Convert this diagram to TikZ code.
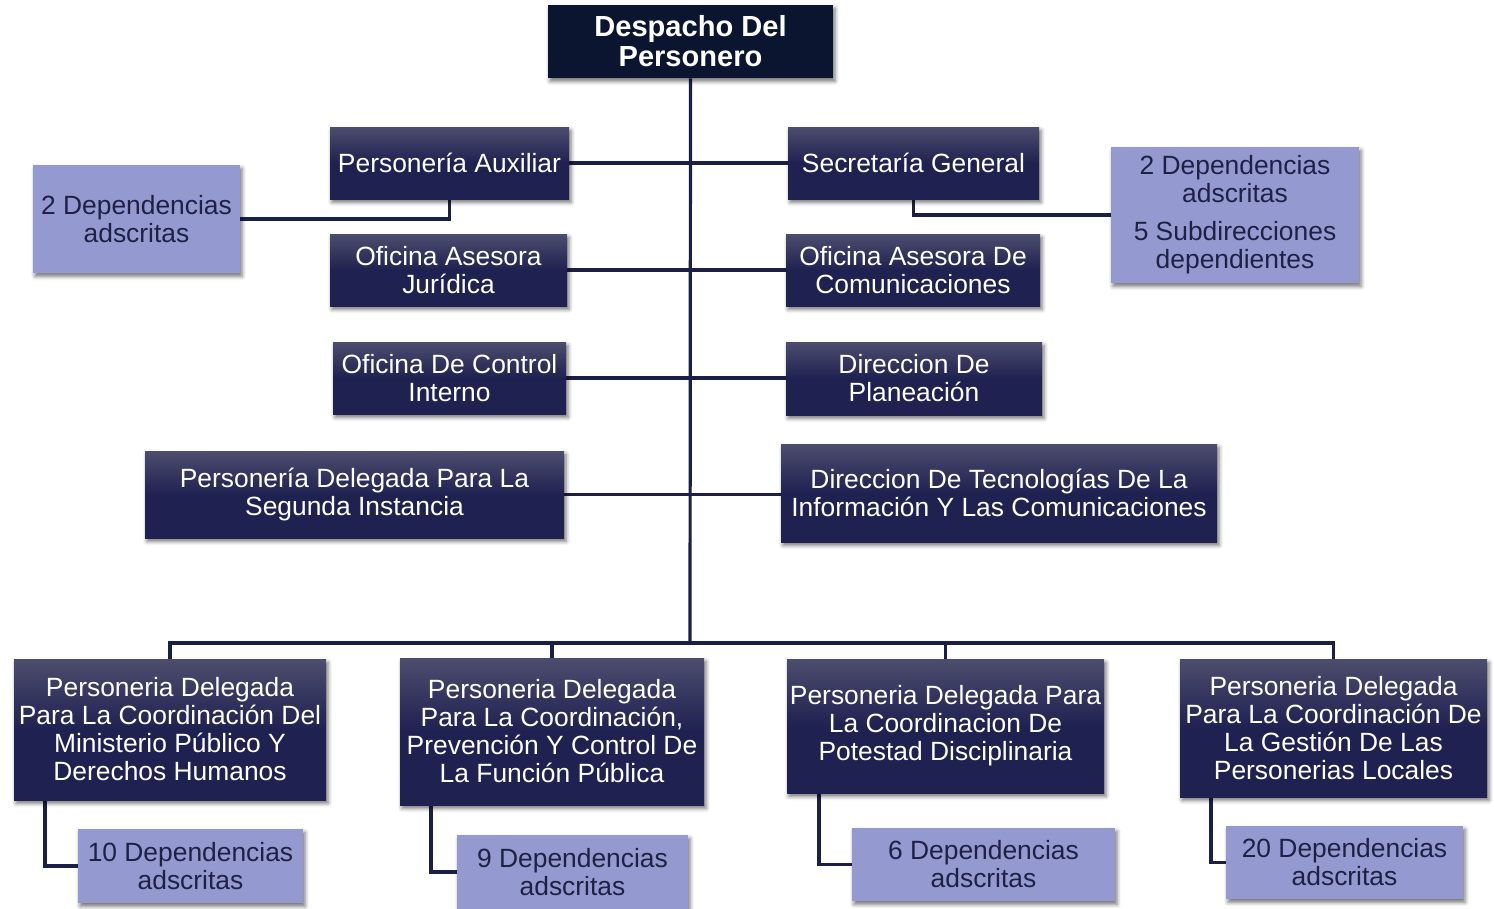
\documentclass[tikz,border=0pt]{standalone}
\usepackage{fontspec}
\setmainfont{Liberation Sans}
\usetikzlibrary{shadows.blur}
\definecolor{boxtop}{HTML}{4D4D6E}
\definecolor{boxdark}{HTML}{1F2151}
\definecolor{headfill}{HTML}{0B1530}
\definecolor{subfill}{HTML}{9499D0}
\definecolor{subtext}{HTML}{1E2145}
\definecolor{linkcol}{HTML}{1B1F47}
\pgfdeclarelayer{bg}
\pgfsetlayers{bg,main}
\tikzset{
  shade/.style={blur shadow={shadow xshift=1.5pt, shadow yshift=-2.5pt,
      shadow blur radius=3pt, shadow opacity=55}},
  bsize/.style 2 args={minimum width=#1*0.75pt, minimum height=#2*0.75pt},
  unit/.style={shade, inner sep=0pt, align=center, text=white,
      top color=boxtop, bottom color=boxdark, middle color=boxdark,
      font=\fontsize{19.8}{21}\selectfont},
  head/.style={shade, inner sep=0pt, align=center, text=white, fill=headfill,
      font=\bfseries\fontsize{21.8}{22.5}\selectfont},
  sub/.style={shade, inner sep=0pt, align=center, text=subtext, fill=subfill,
      font=\fontsize{19.8}{21}\selectfont},
  link/.style={draw=linkcol, line width=2.4pt},
}
\begin{document}
\begin{tikzpicture}[x=0.75pt, y=-0.75pt]
\useasboundingbox (0,0) rectangle (1494,908);

% head of the office
\node[head, bsize={285}{73}] (D) at (690.5,41.5) {Despacho Del\\Personero};

% staff offices on both sides of the trunk
\node[unit, bsize={239}{72}] (PA)  at (449.5,163) {Personería Auxiliar};
\node[unit, bsize={251}{72}] (SG)  at (913.5,163) {Secretaría General};
\node[unit, bsize={237}{72}] (OAJ) at (448.5,270) {Oficina Asesora\\Jurídica};
\node[unit, bsize={254}{72}] (OAC) at (913,270) {Oficina Asesora De\\Comunicaciones};
\node[unit, bsize={233}{72}] (OCI) at (449.5,378) {Oficina De Control\\Interno};
\node[unit, bsize={256}{73}] (DP)  at (914,378.5) {Direccion De\\Planeación};
\node[unit, bsize={419}{87}] (PDSI) at (354.5,494.5) {Personería Delegada Para La\\Segunda Instancia};
\node[unit, bsize={436}{98}] (DTIC) at (999,493) {Direccion De Tecnologías De La\\Información Y Las Comunicaciones};

% attached units of the staff offices
\node[sub, bsize={207}{108}] (LD1) at (136.5,219) {2 Dependencias\\adscritas};
\node[sub, bsize={248}{136}] (RD)  at (1235,215) {\rule{0pt}{3pt}2 Dependencias\\adscritas\\[7.5pt]5 Subdirecciones\\dependientes};

% delegate offices
\node[unit, bsize={312}{141}] (B1) at (170,729.5) {Personeria Delegada\\Para La Coordinación Del\\Ministerio Público Y\\Derechos Humanos};
\node[unit, bsize={304}{147}] (B2) at (552,731.5) {Personeria Delegada\\Para La Coordinación,\\Prevención Y Control De\\La Función Pública};
\node[unit, bsize={317}{134}] (B3) at (945.5,726) {Personeria Delegada Para\\La Coordinacion De\\Potestad Disciplinaria};
\node[unit, bsize={307}{138}] (B4) at (1333.5,728) {Personeria Delegada\\Para La Coordinación De\\La Gestión De Las\\Personerias Locales};

% attached units of the delegate offices
\node[sub, bsize={225}{74}] (L1) at (190.5,866) {10 Dependencias\\adscritas};
\node[sub, bsize={231}{74}] (L2) at (572.5,872) {9 Dependencias\\adscritas};
\node[sub, bsize={263}{73}] (L3) at (983.5,864.5) {6 Dependencias\\adscritas};
\node[sub, bsize={237}{73}] (L4) at (1344.5,862.5) {20 Dependencias\\adscritas};

% junction points of the connectors
\coordinate (bus) at (690,643);
\coordinate (s1) at (45,800);
\coordinate (s2) at (431,805);
\coordinate (s3) at (819,793);
\coordinate (s4) at (1211,797);

\begin{pgfonlayer}{bg}
  \draw[link] (D.south) -- (bus);
  \draw[link] (PA.east) -- (SG.west);
  \draw[link] (OAJ.east) -- (OAC.west);
  \draw[link] (OCI.east) -- (OCI.east -| DP.west);
  \draw[link] (PDSI.east) -- (PDSI.east -| DTIC.west);
  \draw[link] (PA.south) |- (LD1.east);
  \draw[link] (SG.south) |- (RD.west);
  \draw[link] (B1.north) -- (B1.north |- bus) -- (B4.north |- bus) -- (B4.north);
  \draw[link] (B2.north) -- (B2.north |- bus);
  \draw[link] (B3.north) -- (B3.north |- bus);
  \draw[link] (s1) |- (L1.west);
  \draw[link] (s2) |- (L2.west);
  \draw[link] (s3) |- (L3.west);
  \draw[link] (s4) |- (L4.west);
\end{pgfonlayer}
\end{tikzpicture}
\end{document}
